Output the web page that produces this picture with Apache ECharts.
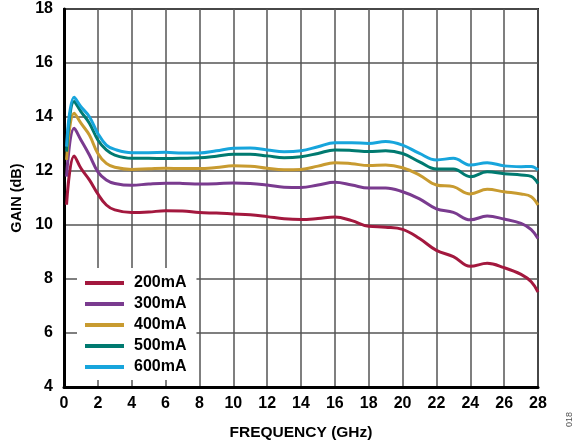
<!DOCTYPE html>
<html>
<head>
<meta charset="utf-8">
<script src="https://cdn.jsdelivr.net/npm/echarts@6/dist/echarts.min.js"></script>
<style>
  html, body { margin: 0; padding: 0; background: #fff; }
  #chart { width: 586px; height: 446px; }
</style>
</head>
<body>
<div id="chart"></div>
<script>
// Frequency points (GHz)
const freq = [0.15, 0.6, 1.0, 1.5, 2, 2.5, 3, 4, 5, 6, 7, 8, 9, 10, 11, 12, 13, 14, 15, 16, 17, 18, 19, 20, 21, 22, 23, 24, 25, 26, 27, 27.6, 28];

// Gain (dB) per bias current
const gain200 = [10.75, 12.56, 12.1, 11.67, 11.15, 10.74, 10.56, 10.46, 10.48, 10.53, 10.52, 10.46, 10.44, 10.41, 10.38, 10.31, 10.23, 10.2, 10.24, 10.3, 10.16, 9.95, 9.92, 9.84, 9.5, 9.06, 8.83, 8.47, 8.58, 8.42, 8.17, 7.9, 7.52];
const gain300 = [11.79, 13.58, 13.15, 12.59, 11.97, 11.67, 11.54, 11.47, 11.52, 11.55, 11.54, 11.52, 11.53, 11.56, 11.54, 11.48, 11.4, 11.39, 11.48, 11.58, 11.48, 11.37, 11.37, 11.23, 10.97, 10.6, 10.47, 10.19, 10.33, 10.22, 10.06, 9.83, 9.5];
const gain400 = [12.41, 14.14, 13.77, 13.33, 12.65, 12.28, 12.14, 12.06, 12.08, 12.1, 12.09, 12.09, 12.13, 12.19, 12.18, 12.1, 12.05, 12.06, 12.18, 12.31, 12.27, 12.2, 12.22, 12.12, 11.85, 11.48, 11.42, 11.15, 11.32, 11.23, 11.15, 11.05, 10.74];
const gain500 = [12.72, 14.57, 14.2, 13.77, 13.15, 12.78, 12.59, 12.47, 12.47, 12.46, 12.47, 12.49, 12.55, 12.62, 12.62, 12.56, 12.49, 12.53, 12.65, 12.78, 12.76, 12.72, 12.75, 12.65, 12.34, 12.07, 12.07, 11.79, 11.97, 11.9, 11.85, 11.8, 11.54];
const gain600 = [12.9, 14.73, 14.38, 14.01, 13.39, 12.96, 12.8, 12.68, 12.68, 12.69, 12.67, 12.67, 12.75, 12.84, 12.85, 12.78, 12.71, 12.75, 12.9, 13.05, 13.05, 13.02, 13.09, 12.96, 12.65, 12.41, 12.47, 12.22, 12.31, 12.19, 12.16, 12.17, 12.04];

const seriesNames = ['200mA', '300mA', '400mA', '500mA', '600mA'];
const seriesColors = ['#a3183e', '#7a3b8f', '#c89b30', '#007a70', '#17a5dc'];
const seriesData = [gain200, gain300, gain400, gain500, gain600];

const chart = echarts.init(document.getElementById('chart'), null, { renderer: 'canvas' });

const font = 'Arial, "Liberation Sans", Helvetica, sans-serif';

const series = seriesNames.map((name, i) => ({
  name: name,
  type: 'line',
  data: freq.map((f, k) => [f, seriesData[i][k]]),
  smooth: 0.4,
  showSymbol: false,
  lineStyle: { color: seriesColors[i], width: 3 },
  itemStyle: { color: seriesColors[i] },
  z: 3
}));

chart.setOption({
  animation: false,
  backgroundColor: '#fff',
  grid: {
    left: 64, right: 48, top: 9, bottom: 59,
    show: true, borderColor: '#222', borderWidth: 2, backgroundColor: 'transparent'
  },
  xAxis: {
    type: 'value', min: 0, max: 28, interval: 2,
    name: 'FREQUENCY (GHz)', nameLocation: 'middle', nameGap: 38,
    nameTextStyle: { fontFamily: font, fontWeight: 'bold', fontSize: 15.5, color: '#000' },
    axisLine: { show: true, lineStyle: { color: '#000', width: 3 } },
    axisTick: { show: false },
    axisLabel: { fontFamily: font, fontWeight: 'bold', fontSize: 16, color: '#000', margin: 9 },
    splitLine: { show: true, lineStyle: { color: '#555', width: 1.5 } }
  },
  yAxis: {
    type: 'value', min: 4, max: 18, interval: 2,
    name: 'GAIN (dB)', nameLocation: 'middle', nameGap: 35, nameRotate: 90,
    nameTextStyle: { fontFamily: font, fontWeight: 'bold', fontSize: 14.5, color: '#000' },
    axisLine: { show: true, lineStyle: { color: '#000', width: 3 } },
    axisTick: { show: false },
    axisLabel: { fontFamily: font, fontWeight: 'bold', fontSize: 16, color: '#000', margin: 11 },
    splitLine: { show: true, lineStyle: { color: '#555', width: 1.5 } }
  },
  legend: {
    orient: 'vertical',
    left: 77, top: 268,
    padding: [7, 10, 5, 8],
    backgroundColor: '#fff',
    itemWidth: 39, itemHeight: 4,
    itemGap: 5,
    icon: 'rect',
    data: seriesNames,
    textStyle: { fontFamily: font, fontWeight: 'bold', fontSize: 16, color: '#000', lineHeight: 16, padding: [0, 0, 0, 5] }
  },
  graphic: [{
    type: 'text',
    left: 565, top: 412,
    rotation: Math.PI / 2,
    style: { text: '018', fontFamily: font, fontSize: 9, fill: '#555' }
  }],
  series: series
});
</script>
</body>
</html>
